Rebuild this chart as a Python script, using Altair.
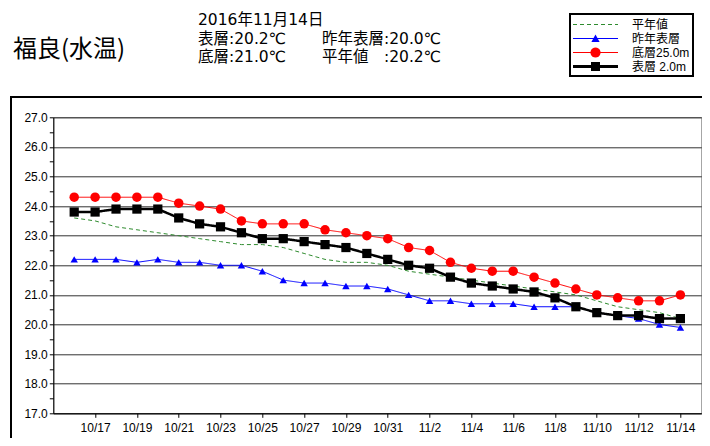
import altair as alt
import pandas as pd

# ---------------- data ----------------
DATES = list(pd.date_range("2016-10-16", "2016-11-14", freq="D"))
SERIES = ["平年値", "昨年表層", "底層25.0m", "表層 2.0m"]

NORMAL = [23.6, 23.5, 23.3, 23.2, 23.1, 23.0, 22.9, 22.8, 22.7, 22.7,
          22.6, 22.4, 22.2, 22.1, 22.1, 22.0, 21.8, 21.7, 21.6, 21.5,
          21.4, 21.3, 21.2, 21.1, 21.0, 20.8, 20.6, 20.5, 20.4, 20.2]
LAST_YEAR = [22.2, 22.2, 22.2, 22.1, 22.2, 22.1, 22.1, 22.0, 22.0, 21.8,
             21.5, 21.4, 21.4, 21.3, 21.3, 21.2, 21.0, 20.8, 20.8, 20.7,
             20.7, 20.7, 20.6, 20.6, 20.6, 20.4, 20.3, 20.2, 20.0, 19.9]
BOTTOM = [24.3, 24.3, 24.3, 24.3, 24.3, 24.1, 24.0, 23.9, 23.5, 23.4,
          23.4, 23.4, 23.2, 23.1, 23.0, 22.9, 22.6, 22.5, 22.1, 21.9,
          21.8, 21.8, 21.6, 21.4, 21.2, 21.0, 20.9, 20.8, 20.8, 21.0]
SURFACE = [23.8, 23.8, 23.9, 23.9, 23.9, 23.6, 23.4, 23.3, 23.1, 22.9,
           22.9, 22.8, 22.7, 22.6, 22.4, 22.2, 22.0, 21.9, 21.6, 21.4,
           21.3, 21.2, 21.1, 20.9, 20.6, 20.4, 20.3, 20.3, 20.2, 20.2]

TICK_DAYS = [(10, 17), (10, 19), (10, 21), (10, 23), (10, 25), (10, 27),
             (10, 29), (10, 31), (11, 2), (11, 4), (11, 6), (11, 8),
             (11, 10), (11, 12), (11, 14)]
Y_MIN, Y_MAX = 17, 27

TITLE = "福良(水温)"
HEADER_DATE = "2016年11月14日"
HEADER_ROWS = [["表層:20.2℃", "昨年表層:20.0℃"],
               ["底層:21.0℃", "平年値　:20.2℃"]]

df = pd.DataFrame({
    "date": DATES * 4,
    "series": [s for s in SERIES for _ in DATES],
    "value": NORMAL + LAST_YEAR + BOTTOM + SURFACE,
})

# ---------------- styles ----------------
JP = "Noto Sans CJK JP"
HDR = "DejaVu Sans, Noto Sans CJK JP"
LEG = "Liberation Sans, Noto Sans CJK JP"
NUM = "Liberation Sans"
COLORS = ["#2e8b2e", "#0000ff", "#ff0000", "#000000"]
LINE_W = [1, 1, 1, 2.5]
DASH = [[4, 3], [1, 0], [1, 0], [1, 0]]
MARKERS = [None, ("triangle-up", 55), ("circle", 90), ("square", 85)]


def rect(x0, x1, h):
    return f"M{x0:.3f},{-h:.3f}H{x1:.3f}V{h:.3f}H{x0:.3f}Z"


def poly_circle(r, n=20):
    import math
    pts = [(r * math.cos(2 * math.pi * i / n), r * math.sin(2 * math.pi * i / n)) for i in range(n)]
    return "M" + "L".join(f"{x:.3f},{y:.3f}" for x, y in pts) + "Z"


U = 7.5  # px per unit of legend symbol path (symbolSize 225)
thin = 0.5 / U
dash_path = ""
x = -3.0
while x < 3.0:
    dash_path += rect(x, min(x + 4 / U, 3.0), thin)
    x += 7 / U
LEGEND_PATHS = [
    dash_path,
    rect(-3, 3, thin) + "M0,-0.55L0.55,0.45L-0.55,0.45Z",
    rect(-3, 3, thin) + poly_circle(0.68),
    rect(-3, 3, 1.4 / U) + "M-0.6,-0.6H0.6V0.6H-0.6Z",
]

W, H = 648, 296
PAD_L, PAD_T = 45.3, 109.3

x_enc = alt.X(
    "date:T",
    scale=alt.Scale(domain=[alt.DateTime(year=2016, month=10, date=15),
                            alt.DateTime(year=2016, month=11, date=15)]),
    axis=alt.Axis(values=[alt.DateTime(year=2016, month=m, date=d) for m, d in TICK_DAYS],
                  format="%-m/%-d", grid=False, tickSize=4, labelAngle=0,
                  labelFont=NUM, labelFontSize=12, labelPadding=5, title=None),
)
y_enc = alt.Y(
    "value:Q",
    scale=alt.Scale(domain=[Y_MIN, Y_MAX], nice=False, zero=False),
    axis=alt.Axis(values=[Y_MIN + 0.5 * i for i in range(2 * (Y_MAX - Y_MIN) + 1)],
                  labelExpr="datum.value % 1 === 0 ? format(datum.value, '.1f') : ''",
                  grid=True, gridColor="#333333", gridWidth=1,
                  gridOpacity={"condition": {"test": "datum.value % 1 !== 0", "value": 0}, "value": 1},
                  tickSize=4, labelFont=NUM, labelFontSize=12, labelPadding=2, title=None),
)

layers = []
# outer frame (decoration)
layers.append(
    alt.Chart(alt.Data(values=[{}])).mark_rect(fillOpacity=0, stroke="black", strokeWidth=2)
    .encode(x=alt.value(-42.3), x2=alt.value(W + 60), y=alt.value(-20.3), y2=alt.value(H + 80))
)

for i, s in enumerate(SERIES):
    base = alt.Chart(df).transform_filter(alt.datum.series == s)
    layers.append(base.mark_line(color=COLORS[i], strokeWidth=LINE_W[i], strokeDash=DASH[i])
                  .encode(x=x_enc, y=y_enc))
    if MARKERS[i]:
        shp, sz = MARKERS[i]
        layers.append(base.mark_point(shape=shp, size=sz, filled=True, opacity=1, color=COLORS[i])
                      .encode(x=x_enc, y=y_enc))

legend = alt.Legend(orient="none", legendX=570 - 53.3, legendY=14 - 117.3, title=None,
                    symbolSize=225, symbolOffset=15, labelOffset=29, rowPadding=0, padding=3,
                    strokeColor="black", fillColor="white", symbolStrokeWidth=0,
                    labelFont=LEG, labelFontSize=12, labelColor="black", labelLimit=200)
layers.append(
    alt.Chart(df).transform_filter("false")
    .mark_point(filled=True, opacity=1, size=225)
    .encode(
        color=alt.Color("series:N", scale=alt.Scale(domain=SERIES, range=COLORS), legend=legend),
        shape=alt.Shape("series:N", scale=alt.Scale(domain=SERIES, range=LEGEND_PATHS), legend=legend),
    )
)


def text_layer(t, px, py, size, font=JP):
    return (alt.Chart(alt.Data(values=[{"t": t}]))
            .mark_text(align="left", baseline="middle", font=font, fontSize=size, color="black")
            .encode(text="t:N", x=alt.value(px - 53.3), y=alt.value(py - 117.3)))


layers.append(text_layer(TITLE, 13, 50, 24))
layers.append(text_layer(HEADER_DATE, 198, 19.5, 15.5, HDR))
for r, row in enumerate(HEADER_ROWS):
    yy = 38.5 + r * 18.5
    layers.append(text_layer(row[0], 198, yy, 15.5, HDR))
    layers.append(text_layer(row[1], 322, yy, 15.5, HDR))

chart = (
    alt.layer(*layers)
    .properties(width=W, height=H,
                padding={"left": PAD_L, "top": PAD_T, "right": 694 - PAD_L - W, "bottom": 430 - PAD_T - H},
                autosize=alt.AutoSizeParams(type="none"), background="white")
    .configure_view(stroke="#808080", strokeWidth=1)
    .configure_axis(domainColor="black", tickColor="black", labelColor="black")
    .configure_legend(strokeWidth=2)
)

chart.save("out.html", embed_options={"renderer": "svg", "actions": False})
